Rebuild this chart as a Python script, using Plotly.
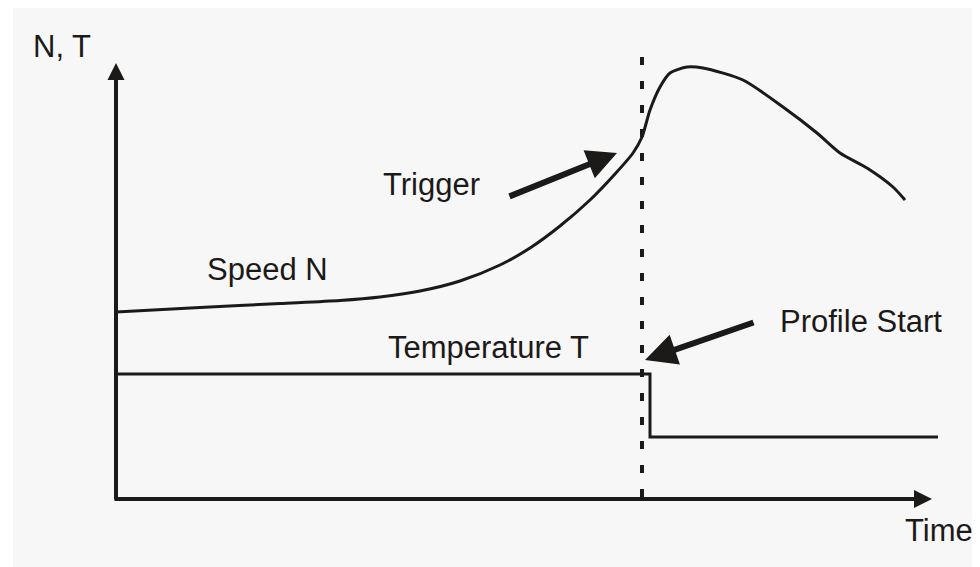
import plotly.graph_objects as go

# Page is rendered with an 8px body margin; figure covers page x 8..980, y 8..567
PAGE_W, PAGE_H = 980, 567
OFF = 8
W, H = PAGE_W - OFF, PAGE_H - OFF

# Speed curve N (time, value) — value measured upward from bottom edge
speed_t = [116, 200, 280, 340, 380, 420, 460, 500, 530, 560, 590, 615, 633, 642,
           650, 660, 670, 687, 703, 743, 783, 817, 840, 867, 893, 905]
speed_px = [312, 307.5, 303.5, 300.5, 297, 291, 281, 265, 248, 226, 200, 174, 153, 137,
            110, 87, 73, 67, 68, 80, 107, 133, 153, 168, 187, 200]
speed_v = [PAGE_H - p for p in speed_px]

# Temperature profile T (step)
temp_t = [116, 650, 650, 938]
temp_px = [374, 374, 437, 437]
temp_v = [PAGE_H - p for p in temp_px]

# Profile start marker (vertical dotted line)
marker_t = [642, 642]
marker_px = [57, 500]
marker_v = [PAGE_H - p for p in marker_px]

INK = "#1c1a19"
FONT = "Liberation Sans, Arial, Helvetica, sans-serif"

fig = go.Figure()
fig.add_trace(go.Scatter(x=marker_t, y=marker_v, mode="lines",
                         line=dict(color=INK, width=4, dash="8px,16px"),
                         hoverinfo="skip", showlegend=False))
fig.add_trace(go.Scatter(x=speed_t, y=speed_v, mode="lines",
                         line=dict(color=INK, width=3, shape="spline", smoothing=0.7),
                         name="Speed N", showlegend=False))
fig.add_trace(go.Scatter(x=temp_t, y=temp_v, mode="lines",
                         line=dict(color=INK, width=3),
                         name="Temperature T", showlegend=False))

annotations = []
# axes drawn as arrows
annotations.append(dict(x=116, y=PAGE_H - 63, ax=116, ay=PAGE_H - 501, xref="x", yref="y",
                        axref="x", ayref="y", text="", showarrow=True,
                        arrowhead=2, arrowwidth=4, arrowsize=0.85, arrowcolor=INK, standoff=0))
annotations.append(dict(x=932, y=PAGE_H - 499, ax=113, ay=PAGE_H - 499, xref="x", yref="y",
                        axref="x", ayref="y", text="", showarrow=True,
                        arrowhead=2, arrowwidth=4, arrowsize=0.9, arrowcolor=INK, standoff=0))
# pointer arrows
annotations.append(dict(x=617, y=PAGE_H - 153, ax=508, ay=PAGE_H - 197, xref="x", yref="y",
                        axref="x", ayref="y", text="", showarrow=True,
                        arrowhead=2, arrowwidth=6, arrowsize=1, arrowcolor=INK, standoff=0))
annotations.append(dict(x=645, y=PAGE_H - 360, ax=755, ay=PAGE_H - 322, xref="x", yref="y",
                        axref="x", ayref="y", text="", showarrow=True,
                        arrowhead=2, arrowwidth=6, arrowsize=1.05, arrowcolor=INK, standoff=0))

labels = [
    ("N, T", 33, 58),
    ("Trigger", 383, 196),
    ("Speed N", 207, 281),
    ("Temperature T", 388, 359),
    ("Profile Start", 780, 333),
    ("Time", 905, 542),
]
for txt, lx, base in labels:
    annotations.append(dict(x=lx - 2, y=PAGE_H - (base - 12), xref="x", yref="y",
                            text=txt, showarrow=False, xanchor="left", yanchor="middle",
                            font=dict(family=FONT, size=31, color=INK)))

fig.update_layout(
    width=W, height=H,
    margin=dict(l=13 - OFF, r=0, t=0, b=0),
    paper_bgcolor="white",
    plot_bgcolor="#f7f7f7",
    xaxis=dict(range=[13, PAGE_W], visible=False, fixedrange=True),
    yaxis=dict(range=[0, PAGE_H - OFF], visible=False, fixedrange=True),
    annotations=annotations,
    showlegend=False,
)

fig.write_html("out.html")
